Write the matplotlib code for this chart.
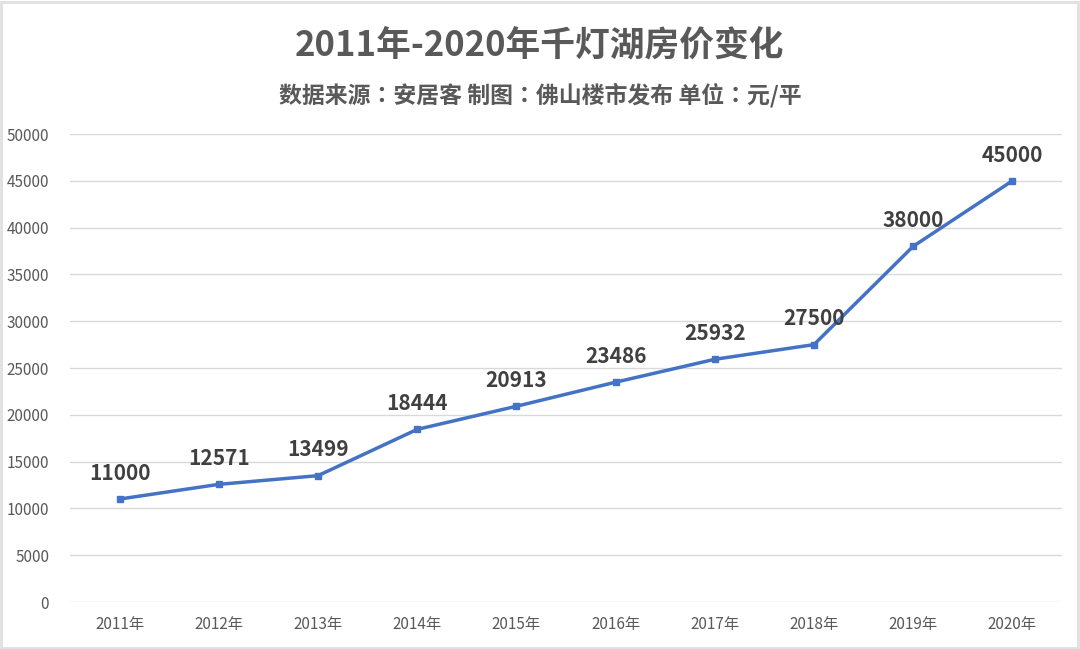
import matplotlib.pyplot as plt
from matplotlib.patches import Rectangle

plt.rcParams['font.family'] = ['Noto Sans CJK SC', 'DejaVu Sans']

years = ['2011年', '2012年', '2013年', '2014年', '2015年',
         '2016年', '2017年', '2018年', '2019年', '2020年']
prices = [11000, 12571, 13499, 18444, 20913, 23486, 25932, 27500, 38000, 45000]
yticks = list(range(0, 50001, 5000))

fig = plt.figure(figsize=(10.8, 6.49), dpi=100)
ax = fig.add_axes([0.0648, 0.0724, 0.9185, 0.7211])

x = list(range(len(years)))
ax.plot(x, prices, color='#4472C4', linewidth=2.5, marker='s', markersize=4.5, zorder=3)

for xi, v in zip(x, prices):
    ax.annotate(str(v), (xi, v), xytext=(0, 11), textcoords='offset points',
                ha='center', va='bottom', fontsize=15, fontweight='bold', color='#404040')

ax.set_xlim(-0.5, len(years) - 0.5)
ax.set_ylim(0, 50000)
ax.set_yticks(yticks)
ax.set_yticklabels([str(t) for t in yticks])
ax.set_xticks(x)
ax.set_xticklabels(years)
ax.tick_params(axis='both', length=0, labelsize=11, colors='#595959')
ax.tick_params(axis='x', pad=10)
ax.tick_params(axis='y', pad=15)
ax.grid(axis='y', color='#D9D9D9', linewidth=1)
ax.set_axisbelow(True)
for s in ax.spines.values():
    s.set_visible(False)

fig.text(0.5, 0.929, '2011年-2020年千灯湖房价变化', ha='center', va='center',
         fontsize=25, fontweight='bold', color='#595959')
# TC variant centres the full-width colon like the original
fig.text(0.5, 0.853, '数据来源：安居客 制图：佛山楼市发布 单位：元/平', ha='center', va='center',
         fontsize=16.5, fontweight='bold', color='#595959',
         family=['Noto Sans CJK TC', 'Noto Sans CJK SC', 'DejaVu Sans'])

fig.patches.append(Rectangle((0.001, 0.002), 0.997, 0.995, transform=fig.transFigure,
                             fill=False, edgecolor='#E0E0E0', linewidth=2))

fig.savefig('out.png', dpi=100)
